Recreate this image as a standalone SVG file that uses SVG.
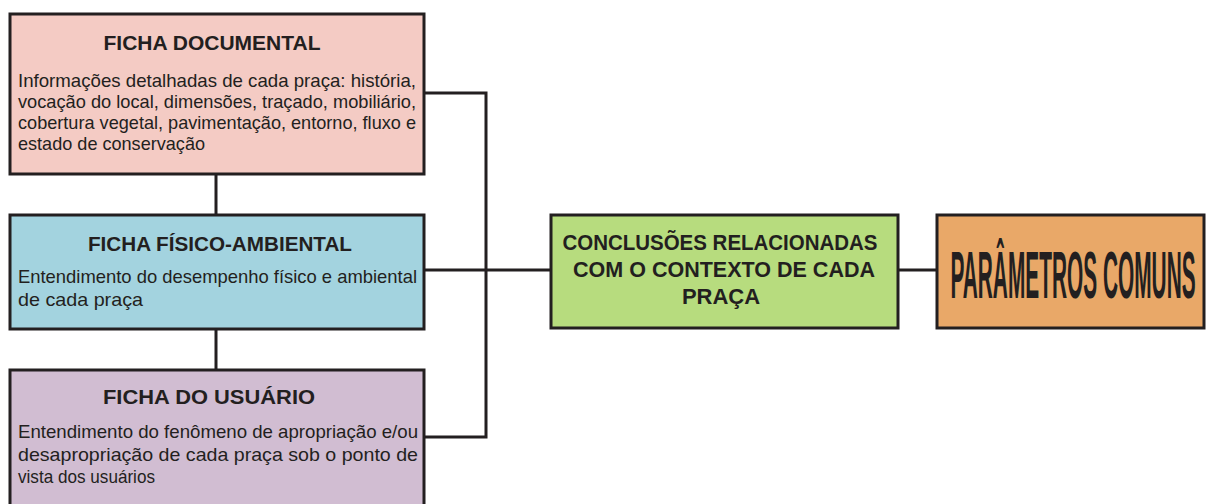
<svg xmlns="http://www.w3.org/2000/svg" width="1206" height="504" viewBox="0 0 1206 504">
<style>
.box{stroke:#231f20;stroke-width:3}
.t{font-family:"Liberation Sans",Arial,sans-serif;font-weight:bold;font-size:21px;fill:#231f20;text-anchor:middle}
.b{font-family:"Liberation Sans",Arial,sans-serif;font-size:18.5px;fill:#231f20}
.c{font-family:"Liberation Sans",Arial,sans-serif;font-weight:bold;font-size:22px;fill:#231f20;text-anchor:middle}
.p{font-family:"Liberation Sans",Arial,sans-serif;font-weight:bold;font-size:66px;fill:#231f20;text-anchor:middle}
.ln{fill:none;stroke:#231f20;stroke-width:3}
</style>
<rect width="1206" height="504" fill="#ffffff"/>
<g id="connectors">
<line class="ln" x1="216" y1="174" x2="216" y2="215"/>
<line class="ln" x1="216" y1="329" x2="216" y2="370"/>
<polyline class="ln" points="424,93 486,93 486,437 424,437"/>
<line class="ln" x1="424" y1="270" x2="551" y2="270"/>
<line class="ln" x1="898" y1="270" x2="937" y2="270"/>
</g>
<g id="ficha-documental">
<rect class="box" x="10" y="14" width="414" height="160" fill="#f4cbc4"/>
<text class="t" x="212" y="50" textLength="217" lengthAdjust="spacingAndGlyphs">FICHA DOCUMENTAL</text>
<text class="b" x="18" y="87" textLength="398" lengthAdjust="spacingAndGlyphs">Informações detalhadas de cada praça: história,</text>
<text class="b" x="18" y="108" textLength="398" lengthAdjust="spacingAndGlyphs">vocação do local, dimensões, traçado, mobiliário,</text>
<text class="b" x="18" y="129" textLength="398" lengthAdjust="spacingAndGlyphs">cobertura vegetal, pavimentação, entorno, fluxo e</text>
<text class="b" x="18" y="150" textLength="187" lengthAdjust="spacingAndGlyphs">estado de conservação</text>
</g>
<g id="ficha-fisico-ambiental">
<rect class="box" x="10" y="215" width="414" height="114" fill="#a3d3df"/>
<text class="t" x="220" y="251" textLength="264" lengthAdjust="spacingAndGlyphs">FICHA FÍSICO-AMBIENTAL</text>
<text class="b" x="18" y="283" textLength="399" lengthAdjust="spacingAndGlyphs">Entendimento do desempenho físico e ambiental</text>
<text class="b" x="18" y="306" textLength="125" lengthAdjust="spacingAndGlyphs">de cada praça</text>
</g>
<g id="ficha-do-usuario">
<rect class="box" x="10" y="370" width="414" height="145" fill="#d1bdd2"/>
<text class="t" x="209" y="404" textLength="212" lengthAdjust="spacingAndGlyphs">FICHA DO USUÁRIO</text>
<text class="b" x="18" y="438" textLength="400" lengthAdjust="spacingAndGlyphs">Entendimento do fenômeno de apropriação e/ou</text>
<text class="b" x="18" y="461" textLength="400" lengthAdjust="spacingAndGlyphs">desapropriação de cada praça sob o ponto de</text>
<text class="b" x="18" y="483" textLength="137" lengthAdjust="spacingAndGlyphs">vista dos usuários</text>
</g>
<g id="conclusoes">
<rect class="box" x="551" y="215" width="347" height="113" fill="#b7dc7e"/>
<text class="c" x="720" y="250" textLength="315" lengthAdjust="spacingAndGlyphs">CONCLUSÕES RELACIONADAS</text>
<text class="c" x="724" y="277" textLength="302" lengthAdjust="spacingAndGlyphs">COM O CONTEXTO DE CADA</text>
<text class="c" x="721" y="304">PRAÇA</text>
</g>
<g id="parametros-comuns">
<rect class="box" x="937" y="215" width="267" height="113" fill="#e9a868"/>
<text class="p" transform="translate(1073,298) scale(0.316,1)" x="0" y="0">PARÂMETROS COMUNS</text>
</g>
</svg>
